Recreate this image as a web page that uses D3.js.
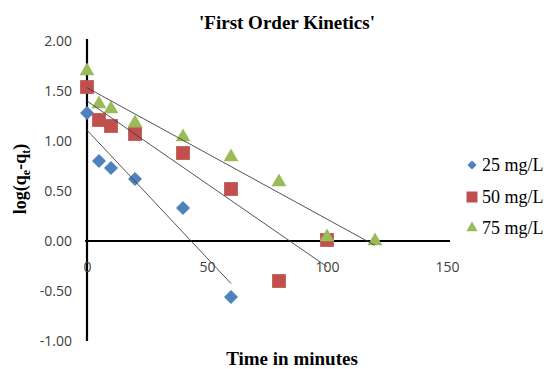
<!DOCTYPE html>
<html>
<head>
<meta charset="utf-8">
<script src="https://cdn.jsdelivr.net/npm/d3@7"></script>
<style>
  body { margin: 0; background: #fff; }
  svg { display: block; }
</style>
</head>
<body>
<div id="chart"></div>
<script>
// data
var seriesNames = ["25 mg/L", "50 mg/L", "75 mg/L"];
var time25 = [0, 5, 10, 20, 40, 60];
var log25 = [1.28, 0.80, 0.73, 0.62, 0.33, -0.56];
var time50 = [0, 5, 10, 20, 40, 60, 80, 100];
var log50 = [1.54, 1.21, 1.15, 1.07, 0.88, 0.52, -0.40, 0.01];
var time75 = [0, 5, 10, 20, 40, 60, 80, 100, 120];
var log75 = [1.70, 1.37, 1.32, 1.18, 1.04, 0.84, 0.59, 0.04, 0.00];
var xTicks = [0, 50, 100, 150];
var yTicks = [-1, -0.5, 0, 0.5, 1, 1.5, 2];

var colors = ["#4F81BD", "#C0504D", "#9BBB59"];

var series = [
  {name: seriesNames[0], t: time25, v: log25},
  {name: seriesNames[1], t: time50, v: log50},
  {name: seriesNames[2], t: time75, v: log75}
];

var W = 550, H = 369;
var svg = d3.select("#chart").append("svg")
    .attr("width", W)
    .attr("height", H);

var x = d3.scaleLinear().domain([0, 150]).range([87, 447]);
var y = d3.scaleLinear().domain([-1, 2]).range([341, 41]);

// y axis (labels left, line at x = 0)
var yAxis = svg.append("g")
    .attr("transform", "translate(" + x(0) + ",0)")
    .call(d3.axisLeft(y).tickValues(yTicks).tickSize(0).tickPadding(15)
      .tickFormat(function(d) { return d.toFixed(2); }));

// x axis along y = 0
var xAxis = svg.append("g")
    .attr("transform", "translate(0," + y(0) + ")")
    .call(d3.axisBottom(x).tickValues(xTicks).tickSize(0).tickPadding(21)
      .tickFormat(function(d) { return d; }));

[yAxis, xAxis].forEach(function(g) {
  g.select(".domain").attr("stroke", "#000").attr("stroke-width", 2.2);
  g.selectAll("text")
    .attr("fill", "#404040")
    .style("font-family", "'Open Sans', sans-serif")
    .style("font-size", "14px");
});
yAxis.select(".domain").attr("d", "M0," + (y(2) - 2) + "V" + y(-1));
xAxis.select(".domain").attr("d", "M" + (x(0) - 2) + ",0H" + (x(150) + 3));

// markers
var symbols = [
  d3.symbol().type(d3.symbolSquare).size(98),
  d3.symbol().type(d3.symbolSquare).size(190),
  d3.symbol().type(d3.symbolTriangle).size(95)
];
var rot = [45, 0, 0];

series.forEach(function(s, i) {
  svg.append("g").selectAll("path")
    .data(s.t)
    .enter().append("path")
      .attr("d", symbols[i])
      .attr("fill", colors[i])
      .attr("transform", function(d, j) {
        return "translate(" + x(d) + "," + y(s.v[j]) + ") rotate(" + rot[i] + ")";
      });
});

// linear trend lines
series.forEach(function(s) {
  var mt = d3.mean(s.t), mv = d3.mean(s.v);
  var sxy = d3.sum(s.t, function(d, j) { return (d - mt) * (s.v[j] - mv); });
  var sxx = d3.sum(s.t, function(d) { return (d - mt) * (d - mt); });
  var slope = sxy / sxx, b = mv - slope * mt;
  var t0 = d3.min(s.t), t1 = d3.max(s.t);
  svg.append("line")
    .attr("x1", x(t0)).attr("y1", y(b + slope * t0))
    .attr("x2", x(t1)).attr("y2", y(b + slope * t1))
    .attr("stroke", "#404040")
    .attr("stroke-width", 0.9);
});

// title and axis titles
svg.append("text")
    .attr("x", 287).attr("y", 29)
    .attr("text-anchor", "middle")
    .style("font-family", "'Liberation Serif', 'Times New Roman', serif")
    .style("font-weight", "bold")
    .style("font-size", "19px")
    .text("'First Order Kinetics'");

svg.append("text")
    .attr("x", 292).attr("y", 365)
    .attr("text-anchor", "middle")
    .style("font-family", "'Liberation Serif', 'Times New Roman', serif")
    .style("font-weight", "bold")
    .style("font-size", "19px")
    .text("Time in minutes");

var yl = svg.append("text")
    .attr("transform", "translate(26,179) rotate(-90)")
    .attr("text-anchor", "middle")
    .style("font-family", "'Liberation Serif', 'Times New Roman', serif")
    .style("font-weight", "bold")
    .style("font-size", "18px");
yl.append("tspan").text("log(q");
yl.append("tspan").attr("dy", 4).style("font-size", "12px").text("e");
yl.append("tspan").attr("dy", -4).text("-q");
yl.append("tspan").attr("dy", 4).style("font-size", "12px").text("t");
yl.append("tspan").attr("dy", -4).text(")");

// legend
var legSymbols = [
  d3.symbol().type(d3.symbolSquare).size(42),
  d3.symbol().type(d3.symbolSquare).size(121),
  d3.symbol().type(d3.symbolTriangle).size(55)
];
var legY = [165, 197, 228];
series.forEach(function(s, i) {
  svg.append("path")
    .attr("d", legSymbols[i])
    .attr("fill", colors[i])
    .attr("transform", "translate(472," + legY[i] + ") rotate(" + rot[i] + ")");
  svg.append("text")
    .attr("x", 482).attr("y", legY[i] + 6)
    .style("font-family", "'Liberation Serif', 'Times New Roman', serif")
    .style("font-size", "18px")
    .attr("fill", "#000")
    .text(s.name);
});
</script>
</body>
</html>
